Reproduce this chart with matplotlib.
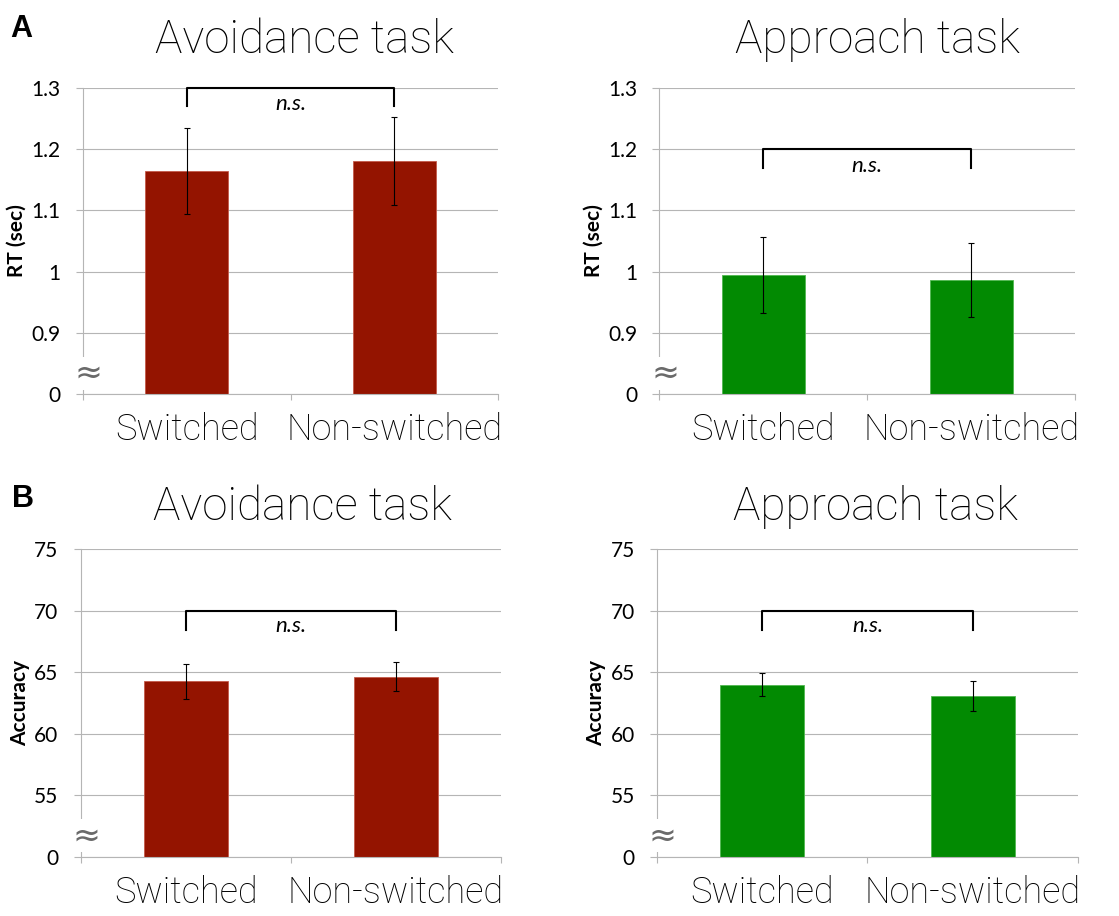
import numpy as np
import matplotlib.pyplot as plt

categories = ['Switched', 'Non-switched']

# reaction times (sec), mean and s.e.m.
rt_avoid = [1.164, 1.181]
rt_avoid_err = [0.070, 0.072]
rt_approach = [0.995, 0.986]
rt_approach_err = [0.062, 0.061]

# accuracy (%), mean and s.e.m.
acc_avoid = [64.27, 64.63]
acc_avoid_err = [1.43, 1.18]
acc_approach = [64.00, 63.05]
acc_approach_err = [0.95, 1.22]

rt_ticks = [0.9, 1.0, 1.1, 1.2, 1.3]
rt_ticklabels = ['0', '0.9', '1', '1.1', '1.2', '1.3']
acc_ticks = [55, 60, 65, 70, 75]
acc_ticklabels = ['0', '55', '60', '65', '70', '75']

RED = '#941400'
GREEN = '#028a02'
GRID = '#b5b5b5'
LIGHT = 'Roboto'
TICKFONT = 'Lato'


def draw_panel(ax, means, errs, color, edge, base, ticks, ticklabels, ylabel,
               bracket_top, bracket_drop, ns_y, label_x):
    x = np.arange(len(categories))
    ax.bar(x, np.array(means) - base, bottom=base, width=0.4, color=color,
           edgecolor=edge, linewidth=0.6, zorder=2)
    ax.errorbar(x, means, yerr=errs, fmt='none', ecolor='black',
                elinewidth=0.8, capsize=2.2, capthick=0.8, zorder=3)

    ax.set_xlim(-0.5, 1.5)
    ax.set_ylim(base, ticks[-1])
    ax.set_yticks([base] + ticks)
    ax.set_yticklabels(ticklabels, fontfamily=TICKFONT)
    ax.yaxis.grid(True, color=GRID, linewidth=0.8)
    ax.set_axisbelow(True)
    ax.tick_params(axis='y', length=5, width=0.8, color=GRID, pad=11,
                   labelsize=15)

    ax.set_xticks(x)
    ax.set_xticklabels(categories, fontfamily=LIGHT, fontweight='light')
    ax.tick_params(axis='x', which='major', length=0, pad=13, labelsize=26)
    ax.set_xticks([-0.5, 0.5, 1.5], minor=True)
    ax.tick_params(axis='x', which='minor', length=4, width=0.8, color=GRID)

    for side in ['top', 'right']:
        ax.spines[side].set_visible(False)
    for side in ['left', 'bottom']:
        ax.spines[side].set_color(GRID)
        ax.spines[side].set_linewidth(0.8)

    ax.set_ylabel(ylabel, fontfamily=TICKFONT, fontweight='bold', fontsize=15)
    ax.yaxis.set_label_coords(label_x, 0.5)

    # significance bracket
    ax.plot([0, 0, 1, 1], [bracket_drop, bracket_top, bracket_top, bracket_drop],
            color='black', linewidth=1.5, clip_on=False, zorder=4)
    ax.text(0.5, ns_y, 'n.s.', style='italic', ha='center', va='center',
            fontsize=16, fontfamily=TICKFONT)

    # axis break mark between 0 and the first tick
    ax.text(0.014, base + 0.34 * (ticks[0] - base), '\u2248',
            transform=ax.get_yaxis_transform(), ha='center', va='center',
            fontsize=24, color='#6a6a6a', zorder=5,
            bbox=dict(facecolor='white', edgecolor='none', pad=0))


fig = plt.figure(figsize=(11.19, 9.16), dpi=100)

ax1 = fig.add_axes([0.0742, 0.5699, 0.3709, 0.3341])
ax2 = fig.add_axes([0.5892, 0.5699, 0.3715, 0.3341])
ax3 = fig.add_axes([0.0721, 0.0647, 0.3756, 0.3356])
ax4 = fig.add_axes([0.5871, 0.0647, 0.3762, 0.3356])

draw_panel(ax1, rt_avoid, rt_avoid_err, RED, '#c45a4a', 0.8, rt_ticks,
           rt_ticklabels, 'RT (sec)', 1.3, 1.27, 1.2735, -0.135)
draw_panel(ax2, rt_approach, rt_approach_err, GREEN, '#4fb84f', 0.8, rt_ticks,
           rt_ticklabels, 'RT (sec)', 1.2, 1.169, 1.1725, -0.135)
draw_panel(ax3, acc_avoid, acc_avoid_err, RED, '#c45a4a', 50, acc_ticks,
           acc_ticklabels, 'Accuracy', 70, 68.45, 68.75, -0.12)
draw_panel(ax4, acc_approach, acc_approach_err, GREEN, '#4fb84f', 50, acc_ticks,
           acc_ticklabels, 'Accuracy', 70, 68.45, 68.75, -0.12)

title_kw = dict(ha='center', va='baseline', fontsize=33, fontfamily=LIGHT,
                fontweight='light')
fig.text(0.2721, 0.9421, 'Avoidance task', **title_kw)
fig.text(0.7842, 0.9421, 'Approach task', **title_kw)
fig.text(0.2703, 0.4323, 'Avoidance task', **title_kw)
fig.text(0.7828, 0.4323, 'Approach task', **title_kw)

fig.text(0.009, 0.9596, 'A', fontsize=22, fontweight='bold',
         fontfamily='Liberation Sans', va='baseline')
fig.text(0.011, 0.4465, 'B', fontsize=22, fontweight='bold',
         fontfamily='Liberation Sans', va='baseline')

fig.savefig('out.png', dpi=100)
